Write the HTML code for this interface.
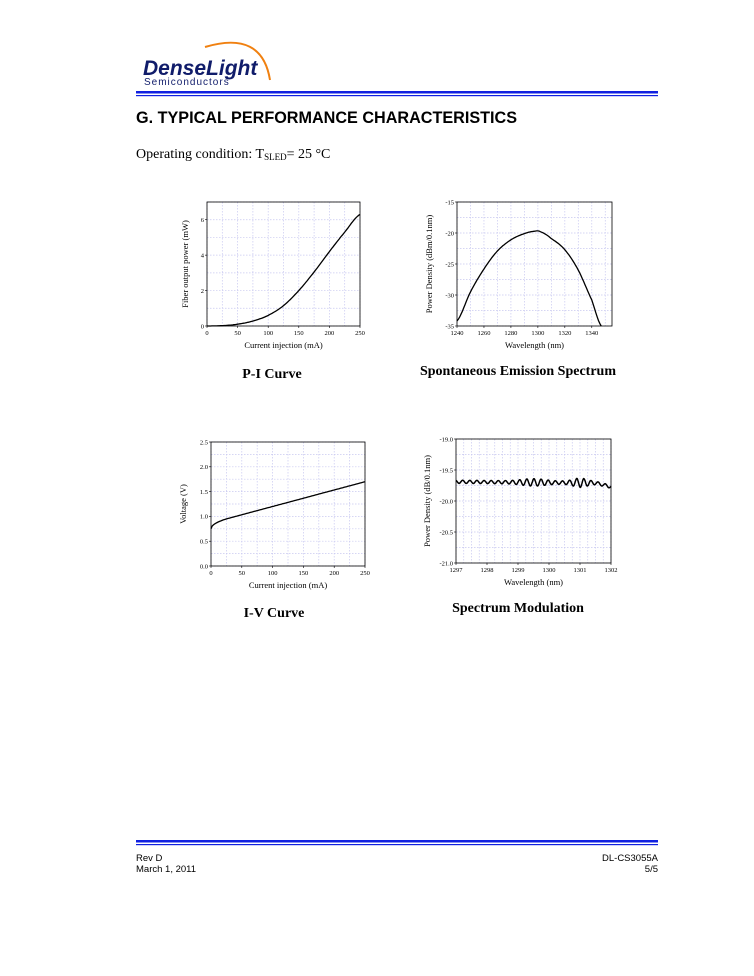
<!DOCTYPE html>
<html><head><meta charset="utf-8"><style>
body{margin:0;background:#fff;width:754px;height:976px;overflow:hidden}
svg{display:block}
</style></head><body>
<svg id="s" width="754" height="976" xmlns="http://www.w3.org/2000/svg">
<rect width="754" height="976" fill="#fff"/>
<path d="M205 47 Q262 30 270 80" stroke="#f08010" stroke-width="2" fill="none"/>
<text x="143" y="75" font-family="Liberation Sans,sans-serif" font-weight="bold" font-style="italic" font-size="21" fill="#101c6a">DenseLight</text>
<text x="144" y="85" font-family="Liberation Sans,sans-serif" font-size="10" fill="#101c6a" letter-spacing="1">Semiconductors</text>
<rect x="136" y="91" width="522" height="2.5" fill="#1020e0"/>
<rect x="136" y="95" width="522" height="1.2" fill="#1020e0"/>
<text x="136" y="123" font-family="Liberation Sans,sans-serif" font-weight="bold" font-size="16.2">G. TYPICAL PERFORMANCE CHARACTERISTICS</text>
<text x="136" y="158" font-family="Liberation Serif,serif" font-size="14">Operating condition: T<tspan font-size="9" dy="2">SLED</tspan><tspan dy="-2">= 25 °C</tspan></text>
<text x="272" y="378" text-anchor="middle" font-family="Liberation Serif,serif" font-weight="bold" font-size="14">P-I Curve</text>
<text x="518" y="375" text-anchor="middle" font-family="Liberation Serif,serif" font-weight="bold" font-size="14">Spontaneous Emission Spectrum</text>
<text x="274" y="617" text-anchor="middle" font-family="Liberation Serif,serif" font-weight="bold" font-size="14">I-V Curve</text>
<text x="518" y="612" text-anchor="middle" font-family="Liberation Serif,serif" font-weight="bold" font-size="14">Spectrum Modulation</text>
<rect x="136" y="840" width="522" height="2.5" fill="#1020e0"/>
<rect x="136" y="844" width="522" height="1.2" fill="#1020e0"/>
<text x="136" y="861" font-family="Liberation Sans,sans-serif" font-size="9.5">Rev D</text>
<text x="136" y="872" font-family="Liberation Sans,sans-serif" font-size="9.5">March 1, 2011</text>
<text x="658" y="861" text-anchor="end" font-family="Liberation Sans,sans-serif" font-size="9.5">DL-CS3055A</text>
<text x="658" y="872" text-anchor="end" font-family="Liberation Sans,sans-serif" font-size="9.5">5/5</text>
<g id="g"></g>
</svg>
<script>
var g=document.getElementById('g'),h='';
function chart(o){
 var X=function(v){return o.l+(v-o.x0)/(o.x1-o.x0)*(o.r-o.l)},Y=function(v){return o.b-(v-o.y0)/(o.y1-o.y0)*(o.b-o.t)};
 var v;
 for(v=o.x0;v<=o.x1+1e-9;v+=o.xm){h+='<line x1="'+X(v)+'" x2="'+X(v)+'" y1="'+o.t+'" y2="'+o.b+'" stroke="#c8c8f0" stroke-width="0.7" stroke-dasharray="1.5,1.5"/>';}
 for(v=o.y0;v<=o.y1+1e-9;v+=o.ym){h+='<line y1="'+Y(v)+'" y2="'+Y(v)+'" x1="'+o.l+'" x2="'+o.r+'" stroke="#c8c8f0" stroke-width="0.7" stroke-dasharray="1.5,1.5"/>';}
 h+='<rect x="'+o.l+'" y="'+o.t+'" width="'+(o.r-o.l)+'" height="'+(o.b-o.t)+'" fill="none" stroke="#000" stroke-width="0.8"/>';
 o.xt.forEach(function(v,i){h+='<line x1="'+X(v)+'" x2="'+X(v)+'" y1="'+o.b+'" y2="'+(o.b+2)+'" stroke="#000" stroke-width="0.6"/><text x="'+X(v)+'" y="'+(o.b+9)+'" text-anchor="middle" font-family="Liberation Serif,serif" font-size="6.5">'+(o.xl?o.xl[i]:v)+'</text>';});
 o.yt.forEach(function(v,i){h+='<line x1="'+(o.l-2)+'" x2="'+o.l+'" y1="'+Y(v)+'" y2="'+Y(v)+'" stroke="#000" stroke-width="0.6"/><text x="'+(o.l-3)+'" y="'+(Y(v)+2.3)+'" text-anchor="end" font-family="Liberation Serif,serif" font-size="6.5">'+(o.yl?o.yl[i]:v)+'</text>';});
 h+='<text x="'+((o.l+o.r)/2)+'" y="'+(o.b+22)+'" text-anchor="middle" font-family="Liberation Serif,serif" font-size="8.5">'+o.xn+'</text>';
 var cy=(o.t+o.b)/2;h+='<text transform="translate('+o.yx+','+cy+') rotate(-90)" text-anchor="middle" font-family="Liberation Serif,serif" font-size="8.5">'+o.yn+'</text>';
 var p=o.pts.map(function(q){return X(q[0]).toFixed(1)+','+Y(Math.max(o.y0,Math.min(o.y1,q[1]))).toFixed(1)}).join(' ');
 h+='<polyline points="'+p+'" fill="none" stroke="#000" stroke-width="'+(o.sw||1.3)+'"/>';
}
function cr(k,x){var n=k.length;for(var i=0;i<n-1;i++){if(x<=k[i+1][0]||i==n-2){var p0=k[Math.max(0,i-1)][1],p1=k[i][1],p2=k[i+1][1],p3=k[Math.min(n-1,i+2)][1];var t=(x-k[i][0])/(k[i+1][0]-k[i][0]);return 0.5*((2*p1)+(-p0+p2)*t+(2*p0-5*p1+4*p2-p3)*t*t+(-p0+3*p1-3*p2+p3)*t*t*t);}}}
var pk=[[0,0],[25,0.02],[50,0.1],[75,0.28],[100,0.6],[125,1.15],[150,2],[175,3.05],[200,4.2],[225,5.3],[250,6.3]];
var pi=[];for(var x=0;x<=250;x+=2)pi.push([x,cr(pk,x)]);
chart({l:207,r:360,t:202,b:326,x0:0,x1:250,y0:0,y1:7,xm:25,ym:1,xt:[0,50,100,150,200,250],yt:[0,2,4,6],xn:'Current injection (mA)',yn:'Fiber output power (mW)',yx:188,pts:pi});
var sk=[[1240,-34.2],[1250,-29.5],[1260,-25.8],[1270,-22.9],[1280,-21.1],[1290,-20.1],[1298,-19.7],[1302,-19.8],[1310,-20.9],[1320,-22.7],[1330,-26],[1340,-30.8],[1347,-35]];
var sp=[];for(var x=1240;x<=1347;x+=1)sp.push([x,cr(sk,x)]);
chart({l:457,r:612,t:202,b:326,x0:1240,x1:1355,y0:-35,y1:-15,xm:10,ym:2.5,xt:[1240,1260,1280,1300,1320,1340],yt:[-35,-30,-25,-20,-15],xn:'Wavelength (nm)',yn:'Power Density (dBm/0.1nm)',yx:432,pts:sp});
var iv=[];for(var x=0;x<=250;x+=2){iv.push([x,0.75+0.2*Math.pow(Math.min(x,25)/25,0.5)+(x>25?(x-25)*0.00333:0)]);}
chart({l:211,r:365,t:442,b:566,x0:0,x1:250,y0:0,y1:2.5,xm:25,ym:0.25,xt:[0,50,100,150,200,250],yt:[0,0.5,1,1.5,2,2.5],yl:['0.0','0.5','1.0','1.5','2.0','2.5'],xn:'Current injection (mA)',yn:'Voltage (V)',yx:186,pts:iv});
var md=[];for(var x=1297;x<=1302.001;x+=0.01){var base=-19.69-0.02*(x-1297)/5-(x>1301.5?0.06*(x-1301.5)/0.5:0);var amp=0.025+0.035*Math.exp(-Math.pow((x-1299.5)/0.5,2))+0.05*Math.exp(-Math.pow((x-1301)/0.3,2));md.push([x,base-amp*Math.cos((x-1297.1)*2*Math.PI/0.23)]);}
chart({l:456,r:611,t:439,b:563,x0:1297,x1:1302,y0:-21,y1:-19,xm:0.25,ym:0.25,xt:[1297,1298,1299,1300,1301,1302],yt:[-21,-20.5,-20,-19.5,-19],yl:['-21.0','-20.5','-20.0','-19.5','-19.0'],xn:'Wavelength (nm)',yn:'Power Density (dB/0.1nm)',yx:430,pts:md,sw:1.5});
g.innerHTML=h;
</script>
</body></html>
